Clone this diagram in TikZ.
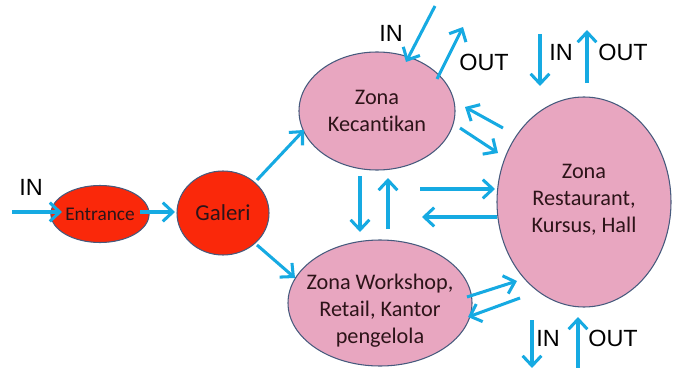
\documentclass[tikz,border=0pt]{standalone}
\usepackage{fontspec}
\setmainfont{Carlito}[Ligatures={NoCommon}]
\newfontfamily\labelfont{Liberation Sans}
\usetikzlibrary{arrows.meta,shapes.geometric}
\definecolor{arrowblue}{RGB}{22,170,226}
\definecolor{zonepink}{RGB}{232,166,192}
\definecolor{hotred}{RGB}{250,40,10}
\definecolor{rimblue}{RGB}{70,90,125}
\definecolor{inktext}{RGB}{45,20,25}
\tikzset{
  zone/.style={ellipse, draw=rimblue, line width=0.9pt, fill=zonepink, inner sep=0pt, text=inktext, align=center, font=\fontsize{19}{23}\selectfont},
  redzone/.style={ellipse, draw=rimblue, line width=0.9pt, fill=hotred, inner sep=0pt, text=inktext, align=center},
  flow/.style={draw=arrowblue, line width=2.6pt, -{Straight Barb[length=8.5pt,width=16pt,line width=2.6pt]}},
  inout/.style={font=\labelfont\fontsize{20}{23}\selectfont, text=black, inner sep=0pt}
}
\begin{document}
\begin{tikzpicture}[x=0.03cm,y=-0.03cm]
\useasboundingbox (0,0) rectangle (677,368);
% nodes
\node[redzone, minimum width=2.19cm, minimum height=1.71cm, font=\fontsize{16.5}{19}\selectfont] (ent) at (100,214) {Entrance};
\node[redzone, minimum width=2.76cm, minimum height=2.52cm, font=\fontsize{19.5}{22}\selectfont] (gal) at (223,213) {Galeri};
\node[zone, minimum width=4.68cm, minimum height=3.54cm] (kec) at (377,111) {Zona\\Kecantikan};
\node[zone, minimum width=5.52cm, minimum height=3.78cm] (ws) at (380,303) {};
\node[font=\fontsize{19}{23}\selectfont, text=inktext, align=center] (wstext) at (380,311) {Zona Workshop,\\Retail, Kantor\\pengelola};
\node[zone, minimum width=5.22cm, minimum height=6.3cm] (res) at (584,202) {};
\node[font=\fontsize{19}{23}\selectfont, text=inktext, align=center] (restext) at (584,200) {Zona\\Restaurant,\\Kursus, Hall};
% labels
\node[inout] (inA) at (31,187) {IN};
\node[inout] (inB) at (391,33) {IN};
\node[inout] (outB) at (484,62) {OUT};
\node[inout] (inC) at (561,52) {IN};
\node[inout] (outC) at (623,52) {OUT};
\node[inout] (inD) at (548,338) {IN};
\node[inout] (outD) at (613,338) {OUT};
% free ends
\coordinate (a1) at (12,212);
\coordinate (a2) at (62,212);
\coordinate (b1) at (140,212);
\coordinate (b2) at (175,212);
\coordinate (c1) at (257,180);
\coordinate (c2) at (304,130);
\coordinate (d1) at (257,245);
\coordinate (d2) at (295,278);
\coordinate (e1) at (435,6);
\coordinate (e2) at (406,62);
\coordinate (f1) at (437,79);
\coordinate (f2) at (463,27);
\coordinate (g1) at (540,34);
\coordinate (g2) at (540,86);
\coordinate (h1) at (587,83);
\coordinate (h2) at (587,30);
\coordinate (i1) at (503,128);
\coordinate (i2) at (465,107);
\coordinate (j1) at (460,128);
\coordinate (j2) at (498,153);
\coordinate (k1) at (360,176);
\coordinate (k2) at (360,232);
\coordinate (l1) at (388,229);
\coordinate (l2) at (388,178);
\coordinate (m1) at (420,189);
\coordinate (m2) at (495,189);
\coordinate (n1) at (497,217);
\coordinate (n2) at (422,217);
\coordinate (o1) at (467,297);
\coordinate (o2) at (517,281);
\coordinate (p1) at (520,298);
\coordinate (p2) at (468,317);
\coordinate (q1) at (532,320);
\coordinate (q2) at (532,368);
\coordinate (r1) at (578,368);
\coordinate (r2) at (578,317);
% arrows
\draw[flow] (a1) -- (a2);
\draw[flow] (b1) -- (b2);
\draw[flow] (c1) -- (c2);
\draw[flow] (d1) -- (d2);
\draw[flow] (e1) -- (e2);
\draw[flow] (f1) -- (f2);
\draw[flow] (g1) -- (g2);
\draw[flow] (h1) -- (h2);
\draw[flow] (i1) -- (i2);
\draw[flow] (j1) -- (j2);
\draw[flow] (k1) -- (k2);
\draw[flow] (l1) -- (l2);
\draw[flow] (m1) -- (m2);
\draw[flow] (n1) -- (n2);
\draw[flow] (o1) -- (o2);
\draw[flow] (p1) -- (p2);
\draw[flow] (q1) -- (q2);
\draw[flow] (r1) -- (r2);
\end{tikzpicture}
\end{document}
